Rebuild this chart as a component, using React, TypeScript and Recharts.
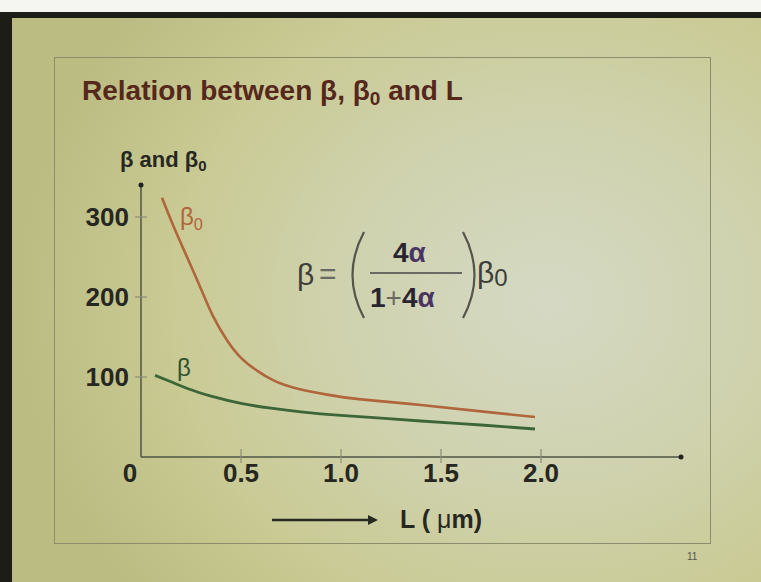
import { LineChart, Line, XAxis, YAxis, ReferenceDot } from "recharts";

// beta_0 (upper curve) and beta (lower curve) versus base length L in µm
const L_BETA0 = [0.105, 0.16, 0.23, 0.3, 0.36, 0.43, 0.5, 0.58, 0.66, 0.76, 0.93, 1.1, 1.4, 1.7, 1.97];
const BETA0 = [324, 290, 250, 210, 176, 146, 124, 108, 96, 87, 78, 72, 65, 57, 50];

const L_BETA = [0.07, 0.15, 0.25, 0.35, 0.5, 0.65, 0.8, 1.0, 1.2, 1.4, 1.7, 1.97];
const BETA = [102, 94, 84, 76, 67, 61, 56.5, 52, 48.5, 45, 40, 35];

const X_TICKS = [0, 0.5, 1, 1.5, 2];
const X_TICK_LABELS = ["0", "0.5", "1.0", "1.5", "2.0"];
const Y_TICKS = [100, 200, 300];

const X_MAX = 2.7;
const Y_MAX = 340;

const FONT = '"Liberation Sans", Arial, sans-serif';
const INK = "#272722";
const AXIS = "#4f5446";
const TICK = "#8a8e78";

const beta0Data = L_BETA0.map((L, i) => ({ L, v: BETA0[i] }));
const betaData = L_BETA.map((L, i) => ({ L, v: BETA[i] }));

function XTick({ x, y, payload }: any) {
  const v = payload.value;
  const label = X_TICK_LABELS[X_TICKS.indexOf(v)];
  return (
    <g>
      {v !== 0 && (
        <line x1={x} x2={x} y1={y - 8} y2={y + 6} stroke={TICK} strokeWidth={1.2} />
      )}
      <text
        x={v === 0 ? x - 11 : x}
        y={y + 16}
        dy="0.36em"
        textAnchor="middle"
        fontFamily={FONT}
        fontWeight="bold"
        fontSize={26}
        fill={INK}
      >
        {label}
      </text>
    </g>
  );
}

function YTick({ x, y, payload }: any) {
  return (
    <g>
      <line x1={x - 6} x2={x + 6} y1={y} y2={y} stroke={TICK} strokeWidth={1.2} />
      <text
        x={x - 12}
        y={y}
        dy="0.36em"
        textAnchor="end"
        fontFamily={FONT}
        fontWeight="bold"
        fontSize={26}
        fill={INK}
      >
        {payload.value}
      </text>
    </g>
  );
}

const abs = (left: number, top: number, extra: any = {}) => ({
  position: "absolute" as const,
  left,
  top,
  lineHeight: 1,
  whiteSpace: "nowrap" as const,
  ...extra,
});

const sub = { fontSize: "0.68em", verticalAlign: "-0.28em" };

export default function App() {
  return (
    <div
      style={{
        position: "absolute",
        left: 0,
        top: 0,
        width: 761,
        height: 582,
        overflow: "hidden",
        fontFamily: FONT,
        background:
          "radial-gradient(ellipse 70% 80% at 72% 52%, #d5d9c4 0%, #cfd2ad 40%, #c9ca93 72%, #bbbc82 100%)",
      }}
    >
      {/* frame of the projected slide */}
      <div style={{ position: "absolute", left: 0, top: 0, width: 761, height: 12, background: "#f5f5f1" }} />
      <div style={{ position: "absolute", left: 0, top: 12, width: 761, height: 6, background: "#1d1d17" }} />
      <div style={{ position: "absolute", left: 0, top: 12, width: 12, height: 570, background: "#1d1d17" }} />
      <div
        style={{
          position: "absolute",
          left: 54,
          top: 57,
          width: 657,
          height: 487,
          border: "1.5px solid #8b8d6b",
          boxSizing: "border-box",
        }}
      />

      <div style={abs(82, 77, { fontSize: 28, fontWeight: "bold", color: "#55281b" })}>
        Relation between β, β<span style={sub}>0</span> and L
      </div>

      <div style={abs(120, 149, { fontSize: 22, fontWeight: "bold", color: INK })}>
        β and β<span style={sub}>0</span>
      </div>

      <div style={{ position: "absolute", left: 0, top: 0 }}>
        <LineChart
          width={761}
          height={582}
          margin={{ top: 185, right: 80, bottom: 95, left: 81 }}
        >
          <XAxis
            type="number"
            dataKey="L"
            domain={[0, X_MAX]}
            ticks={X_TICKS}
            height={30}
            tickSize={0}
            tickMargin={0}
            tickLine={false}
            axisLine={{ stroke: AXIS, strokeWidth: 1.5 }}
            tick={<XTick />}
            allowDataOverflow
          />
          <YAxis
            type="number"
            domain={[0, Y_MAX]}
            ticks={Y_TICKS}
            width={60}
            tickSize={0}
            tickMargin={0}
            tickLine={false}
            axisLine={{ stroke: AXIS, strokeWidth: 1.5 }}
            tick={<YTick />}
            allowDataOverflow
          />
          <Line
            data={beta0Data}
            dataKey="v"
            type="natural"
            stroke="#b0653c"
            strokeWidth={2.6}
            dot={false}
            isAnimationActive={false}
          />
          <Line
            data={betaData}
            dataKey="v"
            type="natural"
            stroke="#3d6638"
            strokeWidth={2.8}
            dot={false}
            isAnimationActive={false}
          />
          <ReferenceDot x={0} y={Y_MAX} r={2.5} fill="#222" stroke="none" ifOverflow="visible" />
          <ReferenceDot x={X_MAX} y={0} r={2.5} fill="#222" stroke="none" ifOverflow="visible" />
        </LineChart>
      </div>

      {/* curve labels */}
      <div style={abs(180, 205, { fontSize: 24, color: "#b0653c" })}>
        β<span style={sub}>0</span>
      </div>
      <div style={abs(177, 356, { fontSize: 24, color: "#33522d" })}>β</div>

      {/* β = (4α / (1 + 4α)) β0 */}
      <div style={abs(297, 260, { fontSize: 30, color: "#3e3e3a" })}>β</div>
      <div style={abs(319, 259, { fontSize: 30, color: "#6a6a62" })}>=</div>
      <svg
        width={761}
        height={582}
        style={{ position: "absolute", left: 0, top: 0, pointerEvents: "none" }}
      >
        <path d="M 364 232 Q 341 275 364 318" fill="none" stroke="#55554d" strokeWidth={2.2} />
        <path d="M 463 232 Q 486 275 463 318" fill="none" stroke="#55554d" strokeWidth={2.2} />
        <line x1={370} x2={462} y1={273} y2={273} stroke="#6a6a62" strokeWidth={2} />
        {/* axis caption arrow */}
        <line x1={272} x2={370} y1={520} y2={520} stroke="#2a2a24" strokeWidth={2.5} />
        <path d="M 368 515 L 378 520 L 368 525 Z" fill="#2a2a24" />
      </svg>
      <div style={abs(393, 239, { fontSize: 28, fontWeight: "bold", color: "#2a2430" })}>
        4<span style={{ color: "#4a3562" }}>α</span>
      </div>
      <div style={abs(370, 284, { fontSize: 28, fontWeight: "bold", color: "#2a2430" })}>
        1<span style={{ fontWeight: "normal", color: "#6a6a62" }}>+</span>4
        <span style={{ color: "#4a3562" }}>α</span>
      </div>
      <div style={abs(477, 258, { fontSize: 30, color: "#3e3e3a" })}>
        β<span style={{ fontSize: "0.8em", verticalAlign: "-0.12em" }}>0</span>
      </div>

      <div style={abs(400, 507, { fontSize: 25, fontWeight: "bold", color: INK })}>
        L ( <span style={{ fontWeight: "normal" }}>μ</span>m)
      </div>

      <div style={abs(687, 552, { fontSize: 10, color: "#55554a" })}>11</div>
    </div>
  );
}
